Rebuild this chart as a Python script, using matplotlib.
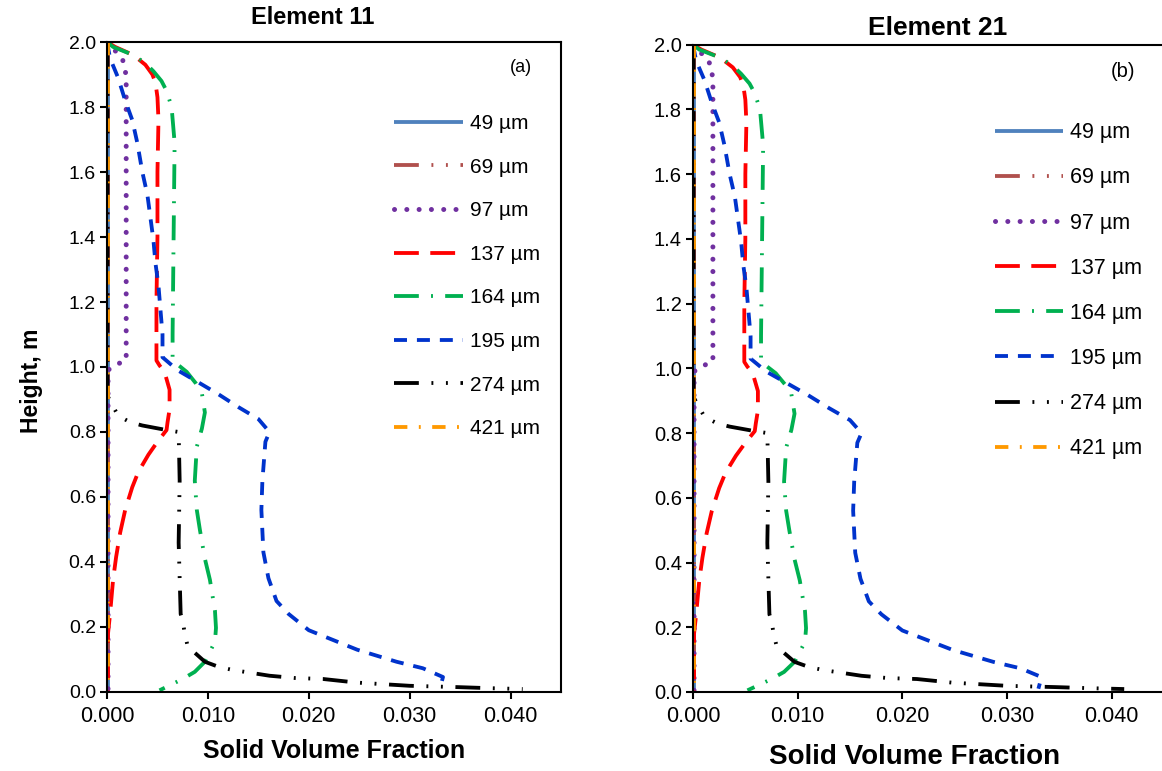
import matplotlib
matplotlib.use("Agg")
import matplotlib.pyplot as plt
import numpy as np

plt.rcParams["font.family"] = ["Liberation Sans", "DejaVu Sans"]

# --------------------------------------------------
# Data (x = solid volume fraction, h = height in m)
# Both elements show the same profiles.
# --------------------------------------------------
h_49 = [2.0, 1.5, 1.0, 0.5, 0.0]
x_49 = [0.00012, 0.00012, 0.00012, 0.00012, 0.00012]

h_69 = [2.0, 1.5, 1.0, 0.5, 0.0]
x_69 = [0.00008, 0.00008, 0.00008, 0.00008, 0.00008]

h_97 = [2.0, 1.98, 1.95, 1.92, 1.88, 1.80, 1.5, 1.2, 1.02, 1.005, 0.99, 0.8, 0.5, 0.2, 0.0]
x_97 = [0.0, 0.0006, 0.0015, 0.0018, 0.0019, 0.0019, 0.0019, 0.0019, 0.0019,
        0.0007, 0.0001, 0.0001, 0.0001, 0.0001, 0.0001]

h_137 = [2.0, 1.985, 1.96, 1.93, 1.90, 1.875, 1.83, 1.76, 1.6, 1.4, 1.2, 1.05, 1.02,
         1.005, 0.985, 0.93, 0.87, 0.83, 0.806, 0.77, 0.73, 0.677, 0.63, 0.56, 0.49,
         0.415, 0.345, 0.24, 0.18, 0.1, 0.0]
x_137 = [0.0, 0.0008, 0.0026, 0.0038, 0.0045, 0.0048, 0.0050, 0.0051, 0.0050, 0.0050,
         0.0049, 0.0049, 0.0049, 0.0052, 0.0057, 0.0062, 0.0062, 0.0060, 0.0059, 0.0050,
         0.0041, 0.0031, 0.0025, 0.0018, 0.0013, 0.0009, 0.0006, 0.0003, 0.0001,
         0.0001, 0.0001]

h_164 = [2.0, 1.985, 1.96, 1.935, 1.91, 1.88, 1.85, 1.80, 1.69, 1.4, 1.1, 1.02, 0.985,
         0.95, 0.92, 0.86, 0.81, 0.755, 0.65, 0.56, 0.50, 0.41, 0.345, 0.25, 0.197,
         0.155, 0.093, 0.062, 0.04, 0.005]
x_164 = [0.0, 0.0006, 0.0026, 0.0038, 0.0046, 0.0054, 0.0059, 0.0064, 0.0067, 0.0066,
         0.0065, 0.0065, 0.0079, 0.0088, 0.0094, 0.0097, 0.0094, 0.0089, 0.0087, 0.0089,
         0.0092, 0.0097, 0.0102, 0.0107, 0.0108, 0.0107, 0.0097, 0.0087, 0.0075, 0.0052]

h_195 = [2.0, 1.95, 1.89, 1.82, 1.76, 1.69, 1.6, 1.53, 1.46, 1.39, 1.32, 1.25, 1.175,
         1.10, 1.03, 0.99, 0.95, 0.917, 0.877, 0.84, 0.80, 0.77, 0.65, 0.56, 0.43, 0.35,
         0.28, 0.24, 0.19, 0.13, 0.093, 0.073, 0.046, 0.01]
x_195 = [0.0, 0.0003, 0.0011, 0.0018, 0.0025, 0.0030, 0.0035, 0.0040, 0.0043, 0.0046,
         0.0048, 0.0051, 0.0053, 0.0055, 0.0055, 0.0070, 0.0092, 0.0110, 0.0130, 0.0150,
         0.0161, 0.0157, 0.0154, 0.0153, 0.0155, 0.0160, 0.0168, 0.0180, 0.0200, 0.0248,
         0.0287, 0.0313, 0.0333, 0.0330]

h_274 = [2.0, 1.5, 1.0, 0.93, 0.908, 0.85, 0.83, 0.82, 0.806, 0.80, 0.65, 0.46, 0.24,
         0.22, 0.18, 0.14, 0.093, 0.078, 0.068, 0.05, 0.043, 0.04, 0.029, 0.019, 0.015,
         0.012, 0.009]
x_274 = [0.00005, 0.00005, 0.00005, 0.00005, 0.0001, 0.0011, 0.0023, 0.0035, 0.0059,
         0.0071, 0.0072, 0.0071, 0.0073, 0.0075, 0.0077, 0.0080, 0.0097, 0.0110, 0.0124,
         0.0161, 0.0186, 0.0214, 0.0247, 0.0300, 0.0347, 0.0376, 0.0412]

h_421 = [2.0, 1.5, 1.0, 0.5, 0.0]
x_421 = [0.00005, 0.00005, 0.00005, 0.00005, 0.00005]

labels = ["49 µm", "69 µm", "97 µm", "137 µm", "164 µm", "195 µm", "274 µm", "421 µm"]
series_x = [x_49, x_69, x_97, x_137, x_164, x_195, x_274, x_421]
series_h = [h_49, h_69, h_97, h_137, h_164, h_195, h_274, h_421]

titles = ["Element 11", "Element 21"]
panel_tags = ["(a)", "(b)"]

# --------------------------------------------------
# Styles
# --------------------------------------------------
colors = ["#4F81BD", "#B0504D", "#7030A0", "#FF0000", "#00B050", "#0033CC", "#000000", "#FF9900"]
dashes = [
    "-",
    (0, (6.5, 3.3, 0.5, 3.3, 0.5, 3.3)),
    (0, (0.01, 2.45)),
    (0, (6.5, 3.0)),
    (0, (6.5, 3.2, 0.5, 3.2)),
    (0, (3.4, 2.6)),
    (0, (6.5, 3.3, 0.5, 3.3, 0.5, 3.3)),
    (0, (3.5, 3, 0.5, 3)),
]
widths = [2.75, 2.75, 3.6, 2.75, 2.75, 2.75, 2.75, 2.75]
caps = ["butt", "butt", "round", "butt", "butt", "butt", "butt", "butt"]

# per-panel layout (panel b is drawn slightly larger in the source)
axes_pos = [
    [0.0921, 0.1025, 0.3907, 0.843],
    [0.5964, 0.1025, 0.4053, 0.8395],
]
legend_anchor = [(0.632, 0.889), (0.641, 0.880)]
legend_size = [15, 15.5]
legend_handle = [3.3, 3.15]
legend_spacing = [1.18, 1.12]
tag_pos = [(0.936, 0.9615), (0.938, 0.958)]
tag_size = [13, 14.5]
title_pos = [(0.454, 1.037), (0.52, 1.026)]
title_size = [17, 19]
xlabel_pos = [(0.5, -0.072), (0.471, -0.08)]
xlabel_size = [18, 20]
xtick_size = [15.5, 15.5]
ytick_size = [14, 14.5]

fig = plt.figure(figsize=(11.62, 7.71), dpi=100)

for i in range(2):
    ax = fig.add_axes(axes_pos[i])
    for xs, hs, lab, c, ls, lw, cap in zip(series_x, series_h, labels, colors,
                                            dashes, widths, caps):
        ax.plot(xs, hs, color=c, linestyle=ls, linewidth=lw, label=lab,
                dash_capstyle=cap, solid_capstyle="butt")

    ax.set_xlim(0, 0.045)
    ax.set_ylim(0, 2.0)
    ax.set_xticks(np.arange(0, 0.041, 0.01))
    ax.set_yticks(np.arange(0, 2.01, 0.2))
    ax.xaxis.set_major_formatter(plt.FormatStrFormatter("%.3f"))
    ax.yaxis.set_major_formatter(plt.FormatStrFormatter("%.1f"))
    ax.tick_params(direction="out", length=5, width=1.5, colors="black")
    ax.tick_params(axis="x", labelsize=xtick_size[i], pad=5)
    ax.tick_params(axis="y", labelsize=ytick_size[i], pad=3)
    for sp in ax.spines.values():
        sp.set_linewidth(1.5)

    # chart title sits a little off-centre in the source
    ax.text(title_pos[i][0], title_pos[i][1], titles[i], transform=ax.transAxes,
            fontsize=title_size[i], fontweight="bold", ha="center", va="center")
    ax.set_xlabel("Solid Volume Fraction", fontsize=xlabel_size[i], fontweight="bold")
    ax.xaxis.set_label_coords(*xlabel_pos[i])
    if i == 0:
        ax.set_ylabel("Height, m", fontsize=16.5, fontweight="bold")
        ax.yaxis.set_label_coords(-0.14, 0.478)
    ax.text(tag_pos[i][0], tag_pos[i][1], panel_tags[i], transform=ax.transAxes,
            fontsize=tag_size[i], ha="right", va="center")

    ax.legend(loc="upper left", bbox_to_anchor=legend_anchor[i], frameon=False,
              fontsize=legend_size[i], handlelength=legend_handle[i],
              labelspacing=legend_spacing[i], handletextpad=0.34,
              borderpad=0, borderaxespad=0)

plt.savefig("out.png", dpi=100)
plt.close()
